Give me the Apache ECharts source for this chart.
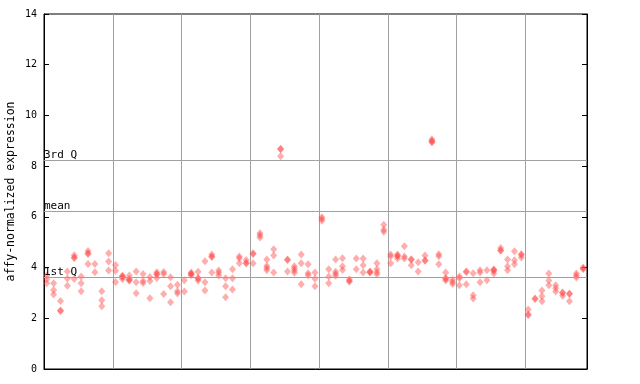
<!DOCTYPE html>
<html>
<head>
<meta charset="utf-8">
<script src="https://cdn.jsdelivr.net/npm/echarts@6/dist/echarts.min.js"></script>
<style>html,body{margin:0;padding:0;background:#fff;}#c{width:640px;height:384px;}</style>
</head>
<body>
<div id="c"></div>
<script>
// Values per sample (replicates), grouped as the chart's vertical bands
const group1 = [[3.69,3.54,3.38],[3.38,3.12,2.94],[2.68,2.31,2.29],[3.85,3.57,3.28],[4.49,4.40,4.38,3.55],[3.65,3.38,3.07],[4.65,4.56,4.54,4.14],[4.14,3.82],[3.07,2.71,2.47],[4.56,4.24,3.88]];
const group2 = [[4.10,3.87,3.43],[3.69,3.65,3.63,3.55],[3.69,3.54,3.52,3.48],[3.85,3.42,2.99],[3.75,3.47,3.39],[3.63,3.47,2.79],[3.82,3.75,3.73,3.59],[3.83,3.75,2.96],[3.62,3.26,2.63],[3.32,3.07,2.98]];
const group3 = [[3.50,3.06],[3.81,3.76,3.74,3.70],[3.84,3.59,3.57,3.49],[4.25,3.42,3.10],[4.52,4.44,4.42,3.81],[3.88,3.80,3.69],[3.58,3.26,2.83],[3.93,3.58,3.14],[4.44,4.37,4.17],[4.30,4.19,4.16]];
const group4 = [[4.56,4.54,4.17],[5.35,5.27,5.19],[4.32,4.06,3.98,3.89],[4.72,4.48,3.81],[8.69,8.67,8.39],[4.32,4.30,3.85],[4.05,3.96,3.88,3.80],[4.52,4.17,3.34],[4.13,3.78,3.70],[3.81,3.56,3.26]];
const group5 = [[5.98,5.93,5.85],[3.93,3.65,3.38],[4.32,3.84,3.76,3.68],[4.37,4.05,3.90],[3.54,3.47,3.45],[4.36,3.93],[4.36,4.09,3.81],[3.85,3.83,3.81],[4.17,3.93,3.82,3.74],[5.69,5.49,5.41]];
const group6 = [[4.52,4.44,4.17],[4.52,4.47,4.45,4.36],[4.84,4.44,4.36],[4.33,4.31,4.09],[4.21,3.85],[4.48,4.29,4.27],[9.06,8.99,8.97,8.93],[4.53,4.45,4.13],[3.81,3.58,3.56,3.49],[3.52,3.43,3.35]];
const group7 = [[3.65,3.58,3.30],[3.85,3.83,3.34],[3.78,2.91,2.78],[3.89,3.81,3.42],[3.89,3.50],[3.93,3.89,3.87,3.77],[4.77,4.68,4.66],[4.32,4.05,3.89],[4.64,4.29,4.13],[4.53,4.51,4.40]];
const group8 = [[2.35,2.15,2.13],[2.78,2.76],[3.10,2.87,2.67],[3.77,3.49,3.30],[3.30,3.18,3.06],[3.02,3.00,2.89],[2.98,2.96,2.67],[3.77,3.69,3.61],[4.00,3.96,3.94]];

const refLabels = ['3rd Q', 'mean', '1st Q'];
const refValues = [8.24, 6.23, 3.63];
const yTicks = [0, 2, 4, 6, 8, 10, 12, 14];
const yTitle = 'affy-normalized expression';

const groups = [group1, group2, group3, group4, group5, group6, group7, group8];
const points = [];
let idx = 0;
groups.forEach(g => g.forEach(sample => { sample.forEach(v => points.push([idx + 0.4, v])); idx++; }));

const mono = 'DejaVu Sans Mono';
const chart = echarts.init(document.getElementById('c'), null, {renderer: 'canvas'});
chart.setOption({
  animation: false,
  backgroundColor: '#fff',
  grid: {left: 44, right: 53, top: 14, bottom: 15, show: true, borderColor: '#000', borderWidth: 1,
         backgroundColor: 'transparent', containLabel: false, outerBoundsMode: 'none'},
  xAxis: {
    type: 'value', min: 0, max: 78.95, interval: 10,
    axisLine: {show: true, lineStyle: {color: '#000'}},
    axisTick: {show: false}, axisLabel: {show: false},
    splitLine: {show: true, lineStyle: {color: '#a0a0a0', width: 1}}
  },
  yAxis: [{
    type: 'value', min: yTicks[0], max: yTicks[yTicks.length - 1], interval: 2,
    name: yTitle, nameLocation: 'middle', nameGap: 27, nameMoveOverlap: false,
    nameTextStyle: {fontFamily: mono, fontSize: 11.5, color: '#000'},
    axisLine: {show: true, lineStyle: {color: '#000'}},
    axisTick: {show: true, inside: true, length: 5, lineStyle: {color: '#000'}},
    axisLabel: {fontFamily: mono, fontSize: 10, color: '#000', margin: 7},
    splitLine: {show: false}
  }, {
    type: 'value', min: yTicks[0], max: yTicks[yTicks.length - 1], interval: 2, position: 'right',
    axisLine: {show: true, lineStyle: {color: '#000'}},
    axisTick: {show: true, inside: true, length: 5, lineStyle: {color: '#000'}},
    axisLabel: {show: false}, splitLine: {show: false}
  }],
  series: [{
    type: 'scatter', data: [], z: 1, silent: true,
    markLine: {
      silent: true, symbol: 'none',
      lineStyle: {color: '#a0a0a0', width: 1, type: 'solid'},
      label: {show: true, position: 'insideStartTop', distance: [0, -1], color: '#000', fontFamily: mono, fontSize: 11,
              formatter: p => p.name},
      data: refValues.map((v, i) => ({name: refLabels[i], yAxis: v}))
    }
  }, {
    type: 'scatter', z: 3,
    symbol: 'diamond', symbolSize: [7, 8],
    itemStyle: {color: 'rgba(255,70,70,0.55)'},
    data: points
  }]
});
</script>
</body>
</html>
